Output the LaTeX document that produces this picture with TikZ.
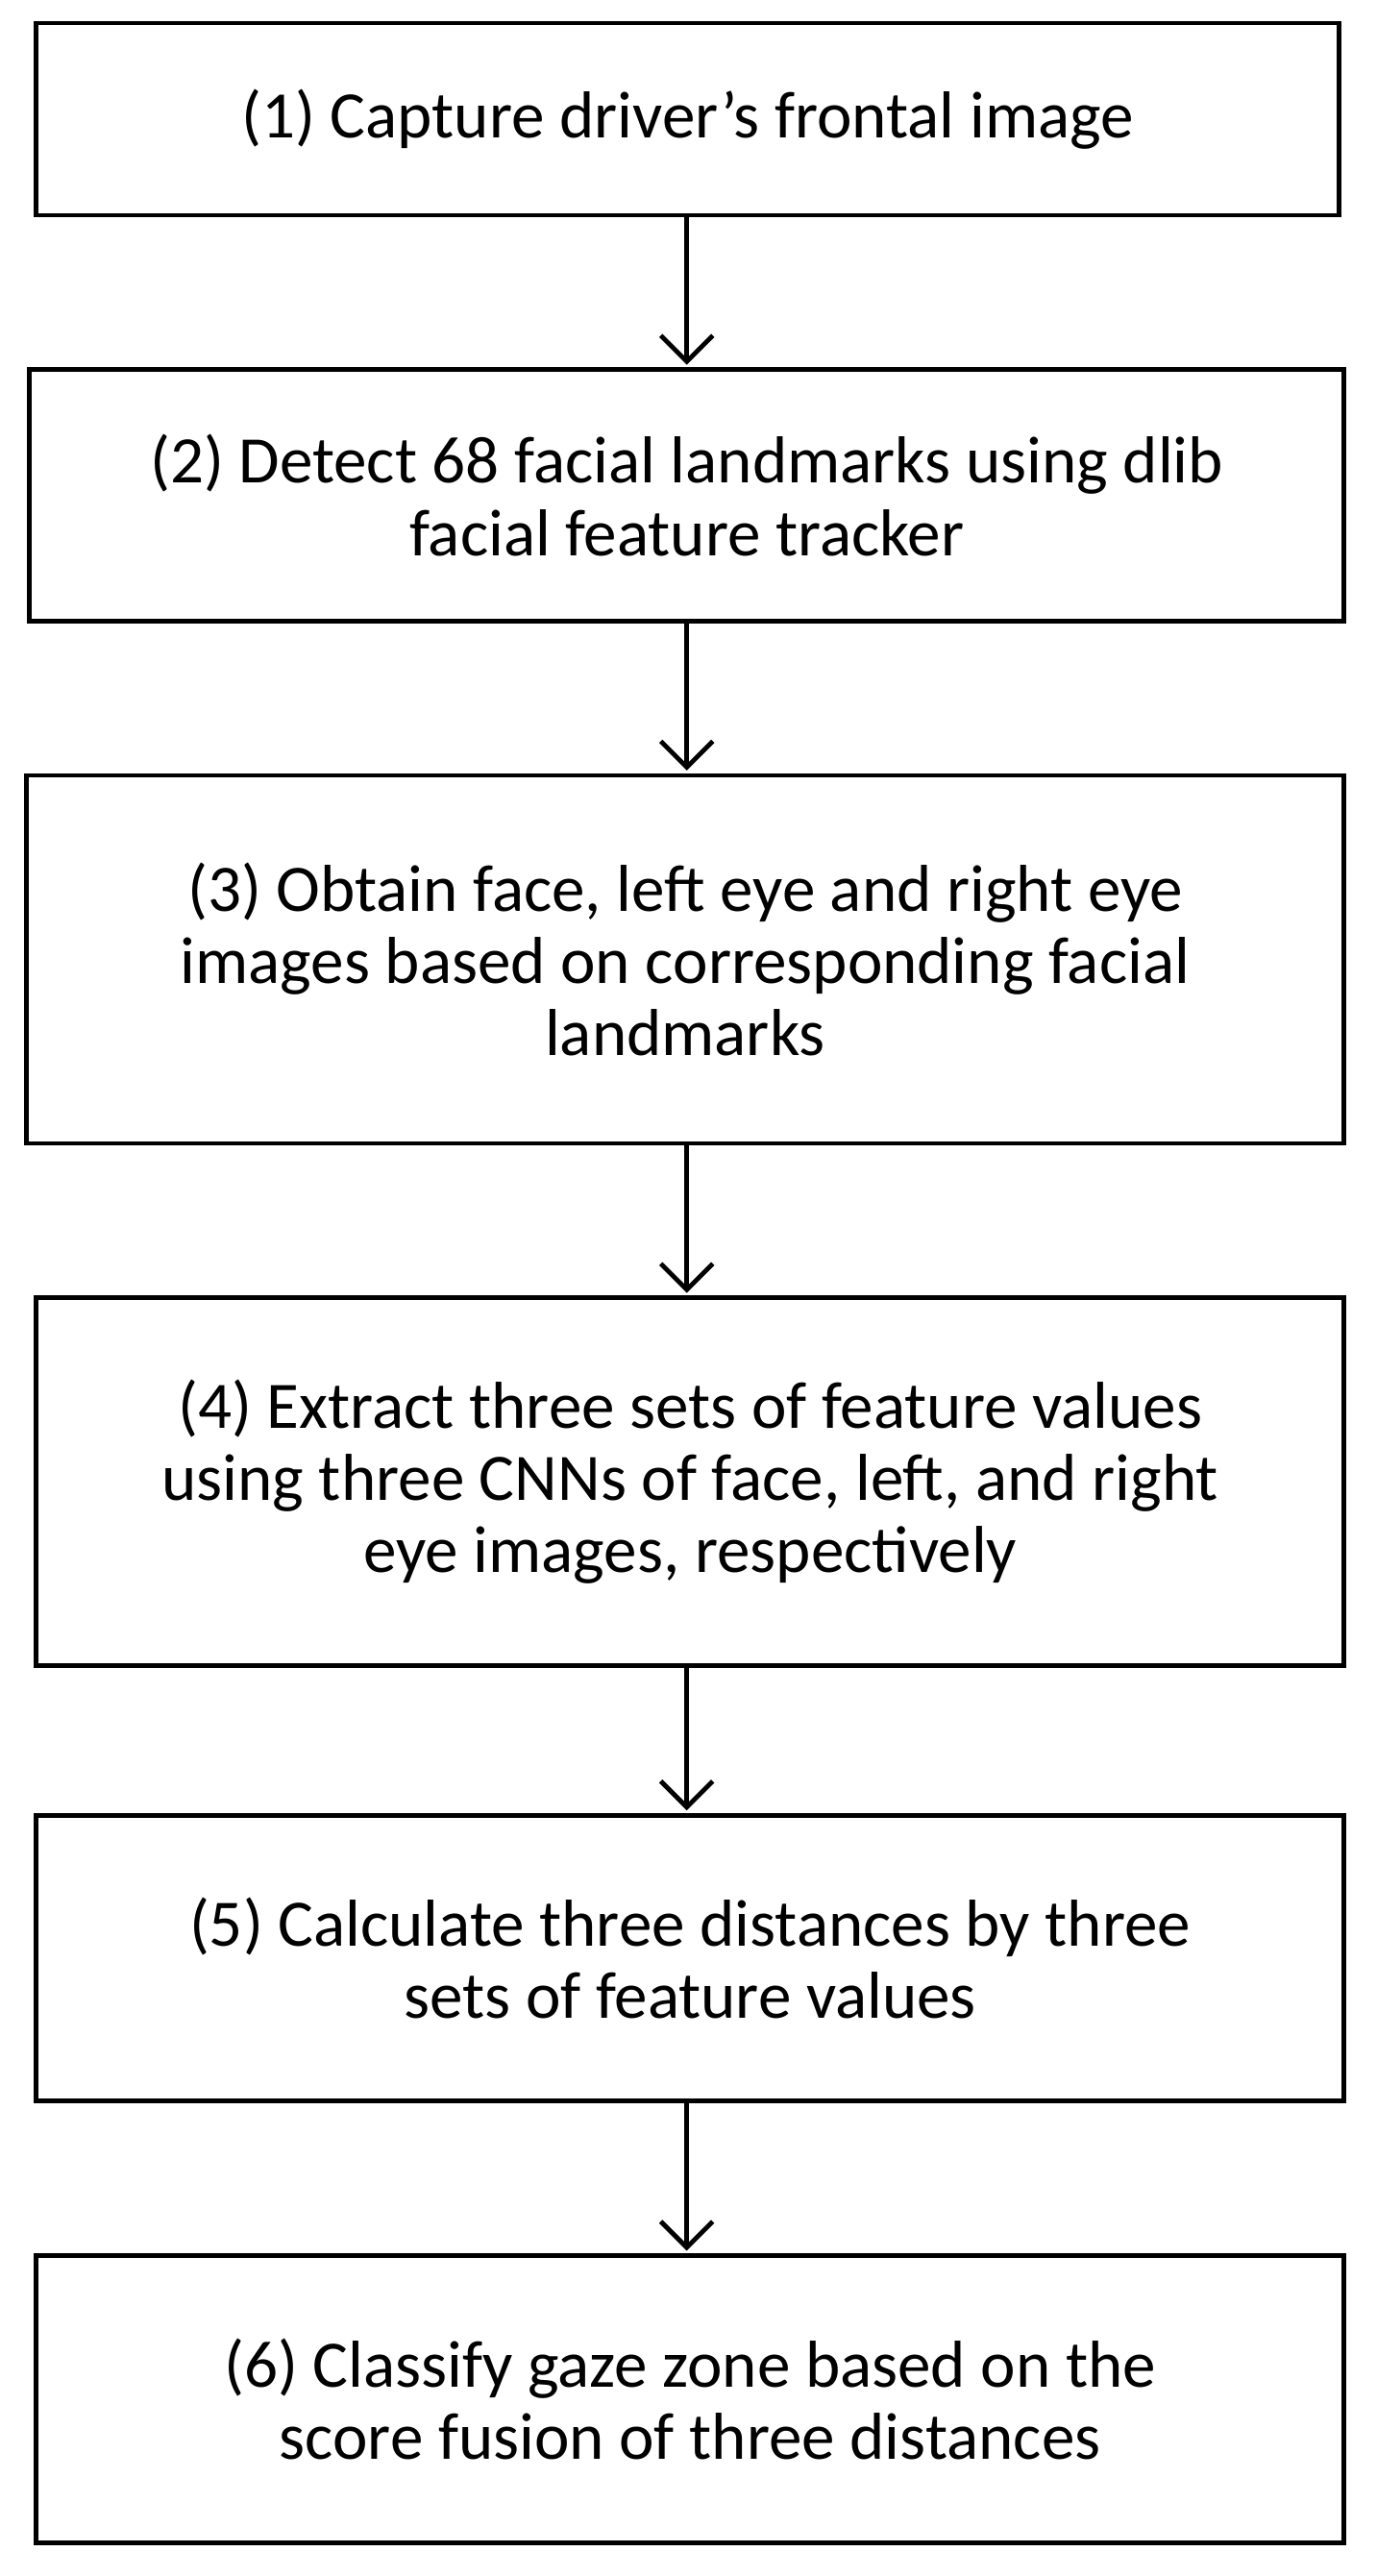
\documentclass[tikz,border=0pt]{standalone}
\usepackage{fontspec}
\setmainfont{Carlito}
\usetikzlibrary{arrows.meta}
\begin{document}
\begin{tikzpicture}[x=0.02cm,y=-0.02cm,
  box/.style={draw,line width=1.6pt,align=center,font=\fontsize{23}{25}\selectfont},
  arr/.style={line width=1.6pt,-{Straight Barb[length=9pt,width=18pt,line width=1.6pt]}}]
\useasboundingbox (0,0) rectangle (838,1568);
\draw[box] (22,14) rectangle (815,131) node[midway] (b1) {(1) Capture driver’s frontal image};
\draw[box] (18,225) rectangle (818,378) node[midway] (b2) {(2) Detect 68 facial landmarks using dlib\\facial feature tracker};
\draw[box] (16,472) rectangle (818,696) node[midway] (b3) {(3) Obtain face, left eye and right eye\\images based on corresponding facial\\landmarks};
\draw[box] (22,790) rectangle (818,1014) node[midway] (b4) {(4) Extract three sets of feature values\\using three CNNs of face, left, and right\\eye images, respectively};
\draw[box] (22,1105) rectangle (818,1279) node[midway] (b5) {(5) Calculate three distances by three\\sets of feature values};
\draw[box] (22,1373) rectangle (818,1548) node[midway] (b6) {(6) Classify gaze zone based on the\\score fusion of three distances};
\coordinate (a1) at (418,131); \coordinate (a2) at (418,222);
\coordinate (a3) at (418,378); \coordinate (a4) at (418,469);
\coordinate (a5) at (418,696); \coordinate (a6) at (418,787);
\coordinate (a7) at (418,1014); \coordinate (a8) at (418,1102);
\coordinate (a9) at (418,1279); \coordinate (a10) at (418,1370);
\draw[arr] (a1) -- (a2);
\draw[arr] (a3) -- (a4);
\draw[arr] (a5) -- (a6);
\draw[arr] (a7) -- (a8);
\draw[arr] (a9) -- (a10);
\end{tikzpicture}
\end{document}
